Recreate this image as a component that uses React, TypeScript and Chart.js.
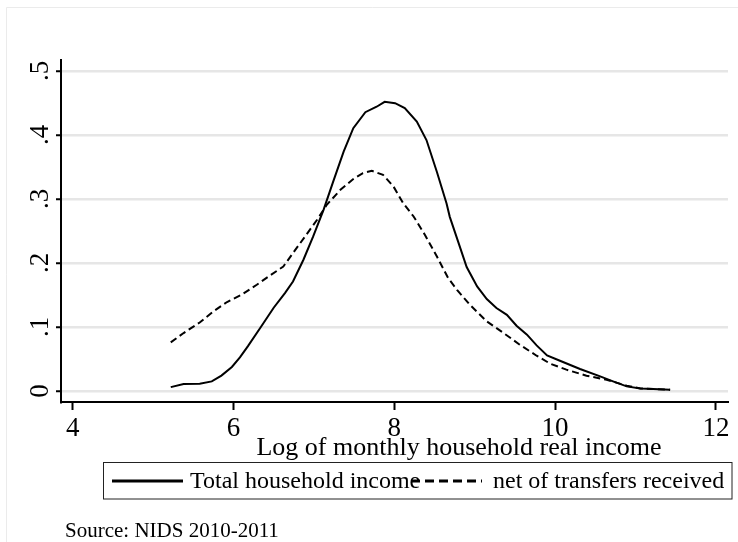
import React, { useEffect, useRef } from "react";
import { Chart, registerables } from "chart.js";

Chart.register(...registerables);

// ---- data ----
const totalX = [5.22, 5.38, 5.58, 5.73, 5.85, 5.98, 6.08, 6.18, 6.33, 6.5, 6.64, 6.74, 6.87, 6.99, 7.12, 7.24, 7.37, 7.49, 7.64, 7.78, 7.88, 8.01, 8.13, 8.28, 8.4, 8.53, 8.65, 8.69, 8.8, 8.9, 9.03, 9.15, 9.27, 9.4, 9.52, 9.65, 9.77, 9.9, 10.06, 10.31, 10.56, 10.72, 10.89, 11.06, 11.22, 11.43];
const totalY = [0.006, 0.011, 0.0114, 0.015, 0.024, 0.0375, 0.0525, 0.07, 0.098, 0.13, 0.153, 0.171, 0.205, 0.241, 0.283, 0.327, 0.374, 0.4105, 0.4355, 0.444, 0.4516, 0.4496, 0.4418, 0.421, 0.392, 0.342, 0.293, 0.272, 0.231, 0.1936, 0.1633, 0.1436, 0.1296, 0.119, 0.102, 0.088, 0.0712, 0.0556, 0.0473, 0.0343, 0.0228, 0.015, 0.0072, 0.004, 0.003, 0.002];

const netX = [5.22, 5.38, 5.58, 5.75, 5.92, 6.1, 6.29, 6.45, 6.62, 6.74, 6.89, 7.04, 7.16, 7.33, 7.49, 7.61, 7.72, 7.86, 7.99, 8.11, 8.24, 8.38, 8.53, 8.67, 8.78, 8.94, 9.15, 9.36, 9.56, 9.77, 9.94, 10.14, 10.39, 10.64, 10.89, 11.06, 11.22, 11.43];
const netY = [0.0759, 0.0905, 0.107, 0.1243, 0.139, 0.1503, 0.166, 0.18, 0.1945, 0.2154, 0.2414, 0.2674, 0.2908, 0.3142, 0.331, 0.3403, 0.3439, 0.3376, 0.3194, 0.2935, 0.2726, 0.244, 0.21, 0.1764, 0.158, 0.1347, 0.1087, 0.0905, 0.0723, 0.0551, 0.0426, 0.0333, 0.0239, 0.0176, 0.0083, 0.004, 0.003, 0.002];

const seriesLabels = ["Total household income", "net of transfers received"];
const xTickValues = [4, 6, 8, 10, 12];
const xTickLabels = ["4", "6", "8", "10", "12"];
const yTickValues = [0, 0.1, 0.2, 0.3, 0.4, 0.5];
const yTickLabels = ["0", ".1", ".2", ".3", ".4", ".5"];
const xAxisTitle = "Log of monthly household real income";
const sourceNote = "Source: NIDS 2010-2011";

const X_MIN = 3.855;
const X_MAX = 12.15;
const Y_MIN = -0.0172;
const Y_MAX = 0.517;

const FONT = "'Liberation Serif', 'Times New Roman', Times, serif";

const toPoints = (xs: number[], ys: number[]) => xs.map((x, i) => ({ x, y: ys[i] }));

const decorPlugin = {
  id: "stataDecor",
  beforeDraw(chart: any) {
    const ctx = chart.ctx;
    ctx.save();
    ctx.fillStyle = "#ffffff";
    ctx.fillRect(0, 0, chart.width, chart.height);
    ctx.strokeStyle = "#ebebeb";
    ctx.lineWidth = 1;
    ctx.beginPath();
    ctx.moveTo(6.5, chart.height);
    ctx.lineTo(6.5, 7.5);
    ctx.lineTo(chart.width, 7.5);
    ctx.stroke();
    ctx.restore();
  },
  afterDraw(chart: any) {
    const ctx = chart.ctx;
    ctx.save();
    ctx.fillStyle = "#000";
    // x axis title
    ctx.font = `26px ${FONT}`;
    ctx.textAlign = "center";
    ctx.textBaseline = "alphabetic";
    ctx.fillText(xAxisTitle, 459, 455);

    // legend box
    ctx.strokeStyle = "#222";
    ctx.lineWidth = 1;
    ctx.strokeRect(103.5, 462.5, 628.5, 36.5);
    const keyStarts = [112, 411];
    const textStarts = [190, 493];
    const keyDash = [[], [9, 5]];
    chart.data.datasets.forEach((ds: any, i: number) => {
      ctx.save();
      ctx.strokeStyle = ds.borderColor;
      ctx.lineWidth = 3;
      ctx.setLineDash(ds.borderDash ? keyDash[i] : []);
      ctx.beginPath();
      ctx.moveTo(keyStarts[i], 481);
      ctx.lineTo(keyStarts[i] + 71, 481);
      ctx.stroke();
      ctx.restore();
      ctx.font = `24px ${FONT}`;
      ctx.textAlign = "left";
      ctx.fillStyle = "#000";
      ctx.fillText(ds.label, textStarts[i], 488);
    });

    // source note
    ctx.font = `21px ${FONT}`;
    ctx.textAlign = "left";
    ctx.fillText(sourceNote, 65, 537);
    ctx.restore();
  },
};

export default function App() {
  const ref = useRef<HTMLCanvasElement>(null);

  useEffect(() => {
    if (!ref.current) return;
    const chart = new Chart(ref.current, {
      type: "line",
      data: {
        datasets: [
          {
            label: seriesLabels[0],
            data: toPoints(totalX, totalY),
            borderColor: "#000000",
            borderWidth: 2,
            pointRadius: 0,
            fill: false,
            tension: 0,
          },
          {
            label: seriesLabels[1],
            data: toPoints(netX, netY),
            borderColor: "#000000",
            borderWidth: 2,
            borderDash: [7, 4],
            pointRadius: 0,
            fill: false,
            tension: 0,
          },
        ],
      },
      options: {
        responsive: false,
        animation: false,
        devicePixelRatio: 1,
        events: [],
        layout: { padding: { left: 0, right: 10, top: 60, bottom: 100 } },
        plugins: {
          legend: { display: false },
          tooltip: { enabled: false },
          title: { display: false },
        },
        scales: {
          x: {
            type: "linear",
            min: X_MIN,
            max: X_MAX,
            afterBuildTicks: (s: any) => {
              s.ticks = xTickValues.map((v) => ({ value: v }));
            },
            afterFit: (s: any) => {
              s.height = 40;
            },
            grid: {
              drawOnChartArea: false,
              drawTicks: true,
              tickLength: 8,
              tickWidth: 2,
              tickColor: "#000",
            },
            border: { display: true, color: "#000", width: 2 },
            ticks: {
              color: "#000",
              font: { family: FONT, size: 27, lineHeight: 1 },
              padding: 5,
              maxRotation: 0,
              minRotation: 0,
              autoSkip: false,
              callback: (_v: any, i: number) => xTickLabels[i],
            },
          },
          y: {
            type: "linear",
            min: Y_MIN,
            max: Y_MAX,
            afterBuildTicks: (s: any) => {
              s.ticks = yTickValues.map((v) => ({ value: v }));
            },
            afterFit: (s: any) => {
              s.width = 61;
            },
            grid: {
              color: "#e6e6e6",
              lineWidth: 2.5,
              drawTicks: true,
              tickLength: 5,
              tickWidth: 2,
              tickColor: "#000",
            },
            border: { display: true, color: "#000", width: 2 },
            ticks: {
              color: "#000",
              font: { family: FONT, size: 27, lineHeight: 1 },
              padding: 4.5,
              minRotation: 90,
              maxRotation: 90,
              crossAlign: "center",
              autoSkip: false,
              callback: (_v: any, i: number) => yTickLabels[i],
            },
          },
        },
      },
      plugins: [decorPlugin],
    } as any);
    return () => chart.destroy();
  }, []);

  return (
    <div style={{ position: "absolute", left: 0, top: 0, width: 738, height: 542 }}>
      <canvas ref={ref} width={738} height={542} style={{ display: "block", width: 738, height: 542 }} />
    </div>
  );
}
